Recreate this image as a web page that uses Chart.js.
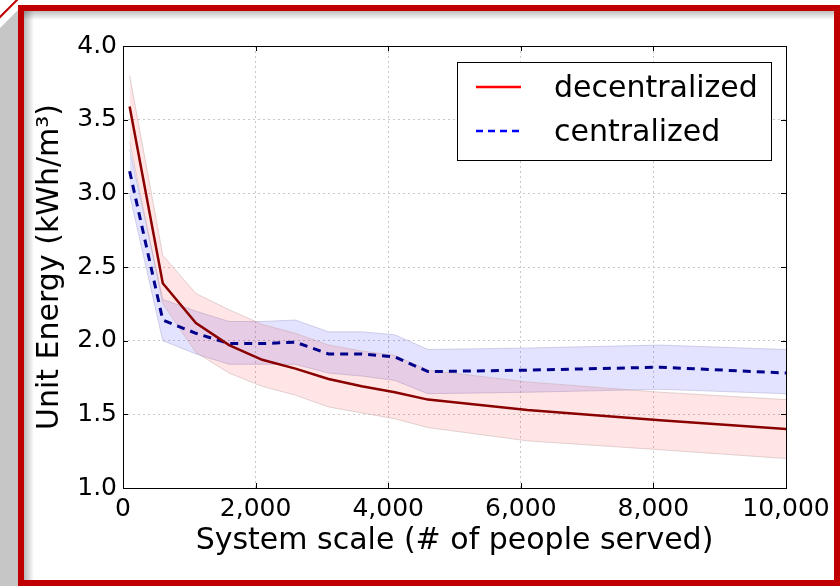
<!DOCTYPE html>
<html>
<head>
<meta charset="utf-8">
<script src="https://cdn.jsdelivr.net/npm/chart.js@4.4.1/dist/chart.umd.min.js"></script>
<style>
  body { margin: 0; width: 840px; height: 586px; background: #fff; position: relative; overflow: hidden; }
  #side { position: absolute; left: 0; top: 0; width: 20px; height: 586px; background: #c6c6c6;
          clip-path: polygon(0 28px, 18px 10px, 20px 10px, 20px 586px, 0 586px); }
  #diag { position: absolute; left: -2px; top: 18px; width: 28px; height: 2px; background: #c00000;
          transform: rotate(-45deg); transform-origin: left center; }
  #frame { position: absolute; left: 18px; top: 5px; width: 810px; height: 569px;
           border: 6px solid #c00000;
           background:
             linear-gradient(to right, rgba(0,0,0,0.28), rgba(0,0,0,0) 10px),
             linear-gradient(to bottom, rgba(0,0,0,0.25), rgba(0,0,0,0) 9px),
             #fff; }
  #wrap { position: absolute; left: 0; top: 0; width: 840px; height: 586px; }
</style>
</head>
<body>
<div id="side"></div>
<div id="diag"></div>
<div id="frame"></div>
<div id="wrap"><canvas id="energy-chart"></canvas></div>
<script>
// system scale (# of people served)
var scale = [100, 600, 1100, 1600, 2100, 2600, 3100, 3600, 4100, 4600, 6100, 8100, 10000];

// decentralized unit energy, mean and band
var decMean = [3.59, 2.39, 2.12, 1.97, 1.87, 1.81, 1.74, 1.69, 1.65, 1.60, 1.53, 1.46, 1.40];
var decHigh = [3.80, 2.58, 2.32, 2.21, 2.11, 2.05, 1.97, 1.93, 1.90, 1.80, 1.72, 1.65, 1.60];
var decLow  = [3.35, 2.25, 1.92, 1.78, 1.69, 1.63, 1.55, 1.51, 1.47, 1.41, 1.32, 1.26, 1.20];

// centralized unit energy, mean and band
var cenMean = [3.15, 2.14, 2.05, 1.98, 1.98, 1.99, 1.91, 1.91, 1.89, 1.79, 1.80, 1.82, 1.78];
var cenHigh = [3.30, 2.28, 2.20, 2.13, 2.13, 2.14, 2.06, 2.06, 2.04, 1.94, 1.95, 1.97, 1.94];
var cenLow  = [2.99, 2.00, 1.91, 1.84, 1.84, 1.84, 1.78, 1.76, 1.73, 1.64, 1.65, 1.67, 1.64];

var xTicks = [0, 2000, 4000, 6000, 8000, 10000];
var yTicks = [1.0, 1.5, 2.0, 2.5, 3.0, 3.5, 4.0];

var FONT = "'DejaVu Sans', sans-serif";

function pts(ys) {
  var out = [];
  for (var i = 0; i < scale.length; i++) {
    out.push({x: scale[i], y: ys[i]});
  }
  return out;
}

// black box round the plot with inward ticks, matplotlib style
var boxPlugin = {
  id: 'box',
  afterDatasetsDraw: function(chart) {
    var ctx = chart.ctx, a = chart.chartArea;
    var xs = chart.scales.x, ys = chart.scales.y;
    ctx.save();
    ctx.strokeStyle = '#000';
    ctx.lineWidth = 1;
    ctx.strokeRect(Math.round(a.left) + 0.5, Math.round(a.top) + 0.5,
                   Math.round(a.right - a.left), Math.round(a.bottom - a.top));
    ctx.beginPath();
    xTicks.forEach(function(v) {
      var px = Math.round(xs.getPixelForValue(v)) + 0.5;
      ctx.moveTo(px, a.bottom); ctx.lineTo(px, a.bottom - 5);
      ctx.moveTo(px, a.top); ctx.lineTo(px, a.top + 5);
    });
    yTicks.forEach(function(v) {
      var py = Math.round(ys.getPixelForValue(v)) + 0.5;
      ctx.moveTo(a.left, py); ctx.lineTo(a.left + 5, py);
      ctx.moveTo(a.right, py); ctx.lineTo(a.right - 5, py);
    });
    ctx.stroke();
    ctx.restore();
  }
};

// legend box in the upper right of the plot
var legendPlugin = {
  id: 'boxLegend',
  afterDraw: function(chart) {
    var ctx = chart.ctx;
    var items = [
      {label: chart.data.datasets[0].label, color: '#ff0000', dash: []},
      {label: chart.data.datasets[1].label, color: '#0000ff', dash: [7, 5]}
    ];
    ctx.save();
    ctx.fillStyle = '#fff';
    ctx.fillRect(457, 62, 314, 98);
    ctx.strokeStyle = '#000';
    ctx.lineWidth = 1;
    ctx.strokeRect(457.5, 62.5, 314, 98);
    items.forEach(function(it, i) {
      var y = 87 + i * 44;
      ctx.strokeStyle = it.color;
      ctx.lineWidth = 2.5;
      ctx.setLineDash(it.dash);
      ctx.beginPath();
      ctx.moveTo(476, y); ctx.lineTo(521, y);
      ctx.stroke();
      ctx.setLineDash([]);
      ctx.fillStyle = '#000';
      ctx.font = '30px ' + FONT;
      ctx.textBaseline = 'alphabetic';
      ctx.fillText(it.label, 554, y + 10);
    });
    ctx.restore();
  }
};

new Chart(document.getElementById('energy-chart'), {
  type: 'line',
  data: {
    datasets: [
      {
        label: 'decentralized',
        data: pts(decMean),
        borderColor: '#8a0000',
        borderWidth: 2.5,
        pointRadius: 0,
        fill: false,
        tension: 0
      },
      {
        label: 'centralized',
        data: pts(cenMean),
        borderColor: '#00008b',
        borderWidth: 3,
        borderDash: [8, 6],
        pointRadius: 0,
        fill: false,
        tension: 0
      },
      {
        label: 'dec high',
        data: pts(decHigh),
        borderColor: 'rgba(200,170,170,0.5)',
        borderWidth: 1,
        pointRadius: 0,
        fill: false
      },
      {
        label: 'dec low',
        data: pts(decLow),
        borderColor: 'rgba(200,170,170,0.5)',
        borderWidth: 1,
        pointRadius: 0,
        fill: {target: 2},
        backgroundColor: 'rgba(255,0,0,0.1)'
      },
      {
        label: 'cen high',
        data: pts(cenHigh),
        borderColor: 'rgba(170,170,210,0.5)',
        borderWidth: 1,
        pointRadius: 0,
        fill: false
      },
      {
        label: 'cen low',
        data: pts(cenLow),
        borderColor: 'rgba(170,170,210,0.5)',
        borderWidth: 1,
        pointRadius: 0,
        fill: {target: 4},
        backgroundColor: 'rgba(0,0,255,0.11)'
      }
    ]
  },
  options: {
    responsive: true,
    maintainAspectRatio: false,
    animation: false,
    layout: {padding: {top: 46, right: 54, left: 0, bottom: 0}},
    plugins: {
      legend: {display: false},
      tooltip: {enabled: false}
    },
    scales: {
      x: {
        type: 'linear',
        min: 0,
        max: 10000,
        afterBuildTicks: function(s) { s.ticks = xTicks.map(function(v) { return {value: v}; }); },
        afterFit: function(s) { s.height = 98; },
        ticks: {
          color: '#000',
          font: {family: FONT, size: 25},
          padding: 6,
          maxRotation: 0,
          callback: function(v) { return v.toLocaleString('en-US'); }
        },
        grid: {color: '#c8c8c8', lineWidth: 1, drawTicks: false},
        border: {display: false, dash: [2, 3]},
        title: {
          display: true,
          text: 'System scale (# of people served)',
          color: '#000',
          font: {family: FONT, size: 30, lineHeight: 1.2},
          padding: {top: 0, bottom: 27}
        }
      },
      y: {
        min: 1,
        max: 4,
        afterBuildTicks: function(s) { s.ticks = yTicks.map(function(v) { return {value: v}; }); },
        afterFit: function(s) { s.width = 123; },
        ticks: {
          color: '#000',
          font: {family: FONT, size: 25},
          padding: 6,
          callback: function(v) { return v.toFixed(1); }
        },
        grid: {color: '#c8c8c8', lineWidth: 1, drawTicks: false},
        border: {display: false, dash: [2, 3]},
        title: {
          display: true,
          text: 'Unit Energy (kWh/m\u00b3)',
          color: '#000',
          font: {family: FONT, size: 30, lineHeight: 1.2},
          padding: {top: 32, bottom: 0}
        }
      }
    }
  },
  plugins: [boxPlugin, legendPlugin]
});
</script>
</body>
</html>
